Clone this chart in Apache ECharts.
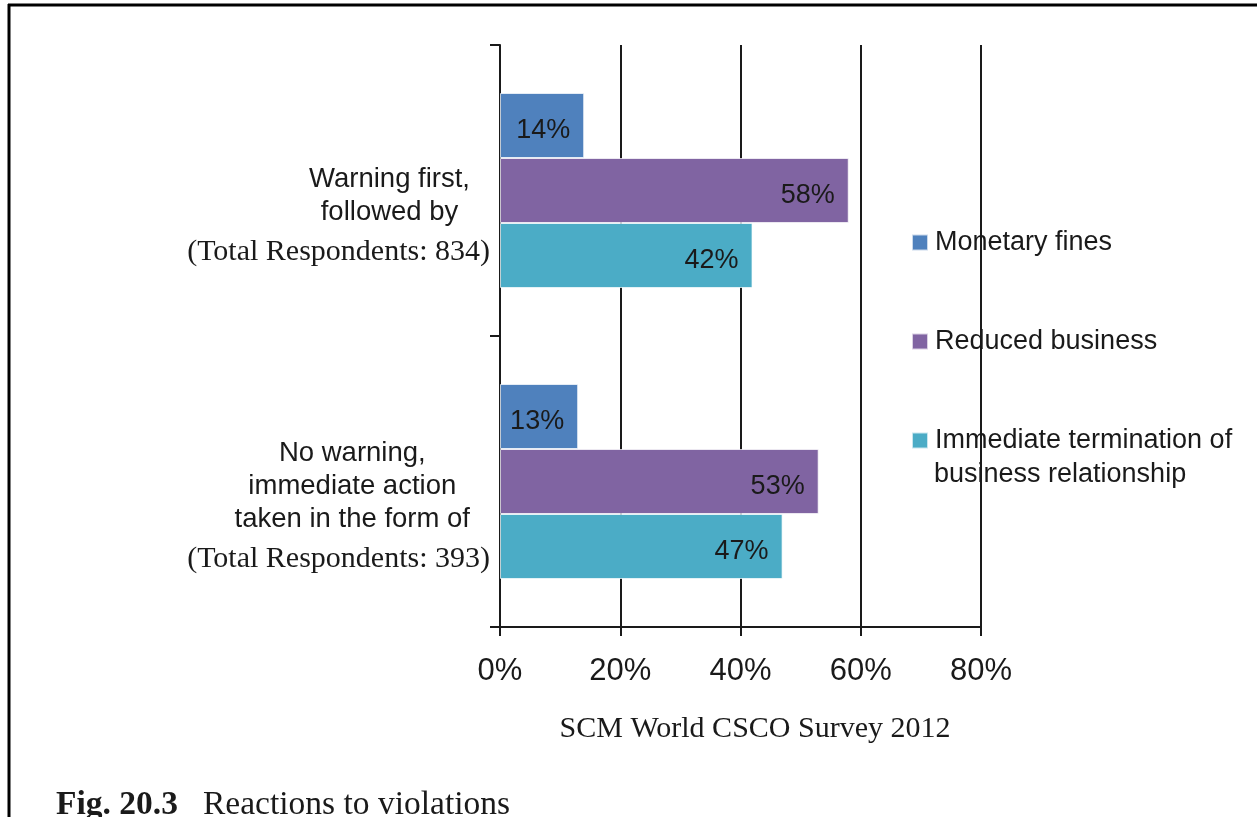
<!DOCTYPE html>
<html>
<head>
<meta charset="utf-8">
<script src="https://cdn.jsdelivr.net/npm/echarts@6/dist/echarts.min.js"></script>
<style>
  html, body { margin: 0; padding: 0; background: #ffffff; }
  #chart { width: 1257px; height: 817px; }
</style>
</head>
<body>
<div id="chart"></div>
<script>
// Survey reactions to supplier violations, shares of respondents (%)
const categories = ['Warning first,\nfollowed by', 'No warning,\nimmediate action\ntaken in the form of'];
const respondents = [834, 393];
const seriesNames = ['Monetary fines', 'Reduced business', 'Immediate termination of business relationship'];
const monetaryFines = [14, 13];
const reducedBusiness = [58, 53];
const immediateTermination = [42, 47];
const xTicks = [0, 20, 40, 60, 80];
const sourceNote = 'SCM World CSCO Survey 2012';
const figureLabel = 'Fig. 20.3';
const figureTitle = 'Reactions to violations';

const colors = ['#4F81BD', '#8064A2', '#4BACC6'];
const sans = 'Liberation Sans, Arial, sans-serif';
const serif = 'Liberation Serif, Times New Roman, serif';
const ink = '#1a1a1a';

const chart = echarts.init(document.getElementById('chart'), null, { renderer: 'canvas' });

function barSeries(name, data, color) {
  return {
    name: name,
    type: 'bar',
    yAxisIndex: 0,
    data: data,
    barGap: '0%',
    barCategoryGap: '33%',
    itemStyle: { color: color, borderColor: 'rgba(255,255,255,0.7)', borderWidth: 1 },
    label: {
      show: true,
      position: 'insideRight',
      distance: 14,
      formatter: '{c}%',
      color: ink,
      fontFamily: sans,
      fontSize: 27,
      offset: [0, 5]
    },
    emphasis: { disabled: true },
    animation: false
  };
}

function legendBlock(name, top, textFormatter) {
  return {
    orient: 'vertical',
    left: 911,
    top: top,
    padding: 0,
    icon: 'rect',
    itemWidth: 16,
    itemHeight: 16,
    itemGap: 0,
    selectedMode: false,
    data: [name],
    formatter: textFormatter || '{name}',
    textStyle: { fontFamily: sans, fontSize: 27, color: ink, lineHeight: 32, padding: [3, 0, 0, 2] }
  };
}

const option = {
  backgroundColor: '#ffffff',
  animation: false,
  color: colors,
  grid: { left: 500, right: 276, top: 45, bottom: 190 },
  legend: [
    legendBlock(seriesNames[0], 225),
    legendBlock(seriesNames[1], 324),
    legendBlock(seriesNames[2], 423, function () { return 'Immediate termination of'; })
  ],
  xAxis: {
    type: 'value',
    min: xTicks[0],
    max: xTicks[xTicks.length - 1],
    interval: xTicks[1] - xTicks[0],
    axisLine: { show: true, lineStyle: { color: ink, width: 2 } },
    axisTick: { show: true, length: 9, lineStyle: { color: ink, width: 2 } },
    splitLine: { show: true, lineStyle: { color: ink, width: 2 } },
    axisLabel: {
      formatter: '{value}%',
      margin: 29,
      color: ink,
      fontFamily: sans,
      fontSize: 31
    }
  },
  yAxis: [
    {
      type: 'category',
      data: categories,
      inverse: true,
      position: 'left',
      axisLine: { show: true, lineStyle: { color: ink, width: 2 } },
      axisTick: { show: true, length: 10, lineStyle: { color: ink, width: 2 } },
      axisLabel: {
        interval: 0,
        margin: 30,
        align: 'right',
        formatter: function (v) {
          // a short spacer line nudges the centred block slightly downward
          return '{e| }\n' + v.split('\n').map(function (line) {
            return '{s|' + line + '}';
          }).join('\n');
        },
        rich: {
          e: { fontSize: 8, lineHeight: 10, align: 'center' },
          s: { fontFamily: sans, fontSize: 27.5, color: ink, lineHeight: 33, align: 'center' }
        }
      }
    },
    {
      type: 'category',
      data: categories,
      inverse: true,
      position: 'left',
      axisLine: { show: false },
      axisTick: { show: false },
      splitLine: { show: false },
      axisLabel: {
        interval: 0,
        margin: 10,
        align: 'right',
        formatter: function (v, i) {
          return '{r' + i + '|(Total Respondents: ' + respondents[i] + ')}';
        },
        rich: {
          r0: { fontFamily: serif, fontSize: 30, color: ink, lineHeight: 30, padding: [124, 0, 0, 0] },
          r1: { fontFamily: serif, fontSize: 30, color: ink, lineHeight: 30, padding: [156, 0, 0, 0] }
        }
      }
    }
  ],
  series: [
    barSeries(seriesNames[0], monetaryFines, colors[0]),
    barSeries(seriesNames[1], reducedBusiness, colors[1]),
    barSeries(seriesNames[2], immediateTermination, colors[2])
  ],
  graphic: [
    // page frame: top and left rules
    { type: 'line', shape: { x1: 8, y1: 5, x2: 1257, y2: 5 }, style: { stroke: '#000', lineWidth: 3 }, silent: true },
    { type: 'line', shape: { x1: 9, y1: 4, x2: 9, y2: 817 }, style: { stroke: '#000', lineWidth: 3 }, silent: true },
    // second line of the third legend entry
    { type: 'text', left: 934, top: 461, silent: true,
      style: { text: 'business relationship', fontFamily: sans, fontSize: 27, fill: ink } },
    // source note
    { type: 'text', x: 755, y: 729, silent: true,
      style: { text: sourceNote, fontFamily: serif, fontSize: 30, fill: ink, align: 'center', verticalAlign: 'middle' } },
    // figure caption
    { type: 'text', x: 56, y: 805, silent: true,
      style: {
        text: '{b|' + figureLabel + '}{n|   ' + figureTitle + '}',
        verticalAlign: 'middle',
        rich: {
          b: { fontFamily: serif, fontSize: 33.5, fontWeight: 'bold', fill: ink, color: ink },
          n: { fontFamily: serif, fontSize: 33.5, fill: ink, color: ink }
        }
      } }
  ]
};

chart.setOption(option);
</script>
</body>
</html>
